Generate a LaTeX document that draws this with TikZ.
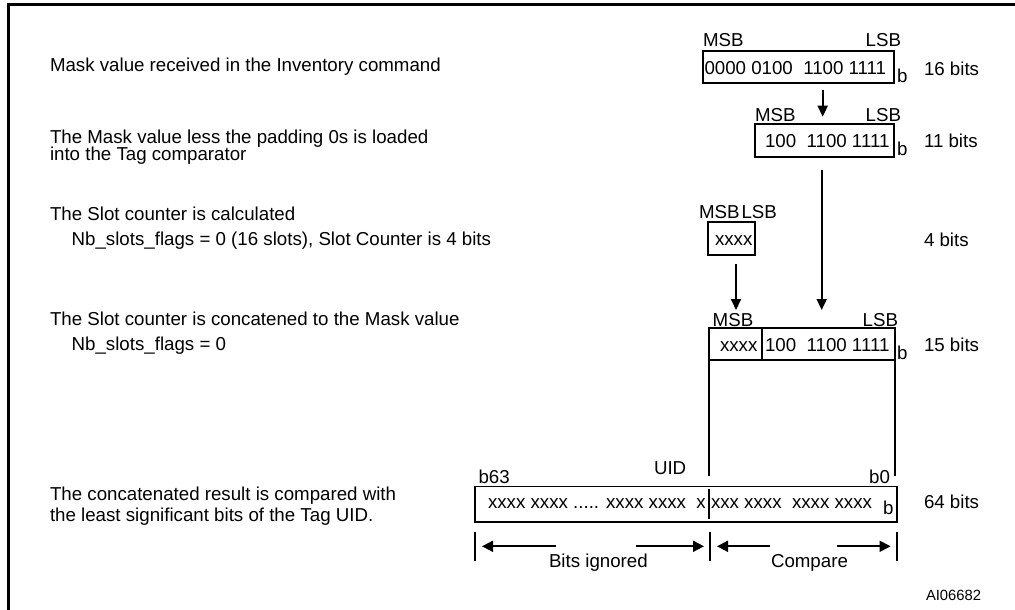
\documentclass[tikz,border=0pt]{standalone}
\usepackage{fontspec}
\setmainfont{Liberation Sans}
\usetikzlibrary{arrows.meta,calc}
\tikzset{
  txt/.style={inner sep=0pt, outer sep=0pt, anchor=base west, font=\fontsize{18.7}{19}\selectfont},
  txtr/.style={txt, anchor=base east},
  bitbox/.style={draw, line width=1.7pt, inner sep=0pt, outer sep=0pt, anchor=north west},
  arr/.style={line width=1.8pt, -{Triangle[width=10pt,length=11pt]}},
  darr/.style={line width=1.8pt, -{Triangle[width=11pt,length=11pt]}},
  plain/.style={line width=1.8pt},
  frame/.style={line width=3pt}
}
\begin{document}
\begin{tikzpicture}[x=1pt,y=-1pt]
\useasboundingbox (0,0) rectangle (1015,610);
% frame
\draw[frame] (8.3,612) -- (8.3,5) -- (1017,5);

% left descriptions
\node[txt] (d1) at (50,71.7) {Mask value received in the Inventory command};
\node[txt] (d2a) at (50,143.3) {The Mask value less the padding 0s is loaded};
\node[txt] (d2b) at (50,160.7) {into the Tag comparator};
\node[txt] (d3a) at (50,220) {The Slot counter is calculated};
\node[txt] (d3b) at (71.7,245) {Nb\_slots\_flags = 0 (16 slots), Slot Counter is 4 bits};
\node[txt] (d4a) at (50,325.7) {The Slot counter is concatened to the Mask value};
\node[txt] (d4b) at (71.7,350) {Nb\_slots\_flags = 0};
\node[txt] (d5a) at (50,500) {The concatenated result is compared with};
\node[txt] (d5b) at (50,521.7) {the least significant bits of the Tag UID.};

% 16-bit mask
\node[txt] (msb1) at (703,46.5) {MSB};
\node[txtr] (lsb1) at (901,46.5) {LSB};
\node[bitbox, minimum width=191.6pt, minimum height=32pt] (m16) at (702.7,50.7) {};
\node[txt] (v16) at (704.5,74.6) {0000 0100\ \ 1100 1111};
\node[txt] (b16) at (897,82.7) {b};
\node[txt] (n16) at (924,75.5) {16 bits};

% 11-bit mask
\node[txt] (msb2) at (755,121.7) {MSB};
\node[txtr] (lsb2) at (901,121.7) {LSB};
\node[bitbox, minimum width=139.3pt, minimum height=32.7pt] (m11) at (755,124) {};
\node[txt] (v11) at (765,147.5) {100\ \ 1100 1111};
\node[txt] (b11) at (897,155.5) {b};
\node[txt] (n11) at (924,147) {11 bits};

% slot counter
\node[txt] (msb3) at (699,218.3) {MSB};
\node[txt] (lsb3) at (741.5,218.3) {LSB};
\node[bitbox, minimum width=47pt, minimum height=33.3pt] (sc) at (708.3,221.7) {};
\node[txt] (vsc) at (715,245) {xxxx};
\node[txt] (n4) at (924,246.5) {4 bits};

% 15-bit concatenated
\node[txt] (msb4) at (712.7,326.7) {MSB};
\node[txtr] (lsb4) at (898,326.7) {LSB};
\node[bitbox, minimum width=185.7pt, minimum height=32pt] (m15) at (709.3,328.3) {};
\draw[plain] (761.7,328.3) coordinate (dv1) -- (dv1 |- m15.south);
\node[txt] (vx15) at (720,351.5) {xxxx};
\node[txt] (v15) at (765,351.5) {100\ \ 1100 1111};
\node[txt] (b15) at (897,359.5) {b};
\node[txt] (n15) at (924,351) {15 bits};

% arrows
\coordinate (ax1) at (822.7,0);
\coordinate (ax2) at (821.7,0);
\coordinate (ax3) at (736,0);
\draw[arr, shorten <=7.3pt, shorten >=7.3pt] (m16.south -| ax1) -- (m11.north -| ax1);
\draw[arr, shorten <=13.3pt, shorten >=18.3pt] (m11.south -| ax2) -- (m15.north -| ax2);
\draw[arr, shorten <=9pt, shorten >=18.3pt] (sc.south -| ax3) -- (m15.north -| ax3);

% UID
\node[txt] (uidl) at (654,474) {UID};
\node[txt] (b63) at (478.5,483) {b63};
\node[txtr] (b0) at (890,483) {b0};
\node[bitbox, minimum width=422pt, minimum height=35.5pt] (uid) at (475,486.5) {};
\draw[plain] (709,489) coordinate (dv2) -- (709,518.5);
\node[txt] (vu1) at (488,508) {xxxx xxxx ..... xxxx xxxx\ \ x};
\node[txt] (vu2) at (711,508) {xxx xxxx\ \ xxxx xxxx};
\node[txt] (bu) at (883,514) {b};
\node[txt] (n64) at (924,508) {64 bits};

% connecting lines from 15-bit value down to UID
\draw[plain, shorten >=10.5pt] (m15.south west) -- (m15.south west |- uid.north);
\draw[plain, shorten >=10.5pt] (m15.south east) -- (m15.south east |- uid.north);

% dimension ticks
\coordinate (t1) at (475,531.7);
\coordinate (t2) at (710,531.7);
\coordinate (t3) at (897,531.7);
\foreach \t in {t1,t2,t3} \draw[plain] (\t) -- ++(0,29.3);
\draw[darr] (556,546.3) -- ($(t1)+(7,14.6)$);
\draw[darr] (636,546.3) -- ($(t2)+(-6,14.6)$);
\draw[darr] (770,546.3) -- ($(t2)+(7,14.6)$);
\draw[darr] (836.5,546.3) -- ($(t3)+(-6.4,14.6)$);
\node[txt] (lbi) at (549,567) {Bits ignored};
\node[txt] (lcp) at (771,567) {Compare};

\node[txt, font=\fontsize{14.8}{16}\selectfont] (ref) at (926,600) {AI06682};
\end{tikzpicture}
\end{document}
